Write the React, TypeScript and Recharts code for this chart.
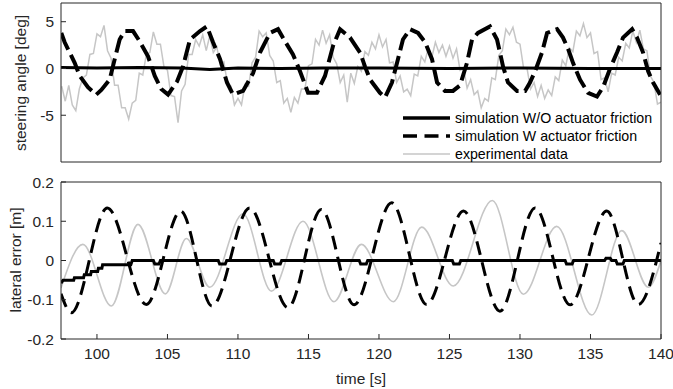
import React from 'react';
import { LineChart, Line, XAxis, YAxis } from 'recharts';

// ---------- axes ----------
const X_DOMAIN: [number, number] = [97.45, 140];
const X_TICKS = [100, 105, 110, 115, 120, 125, 130, 135, 140];
const STEER_DOMAIN: [number, number] = [-10, 7];
const STEER_TICKS = [-10, -5, 0, 5];
const LAT_DOMAIN: [number, number] = [-0.2, 0.2];
const LAT_TICKS = [-0.2, -0.1, 0, 0.1, 0.2];

const SERIES_NAMES = [
  'simulation W/O actuator friction',
  'simulation W actuator friction',
  'experimental data',
];

// ---------- steering angle [deg] ----------
const steerWO: [number, number][] = [
  [97.45, 0.1], [100, 0.05], [103, 0.1], [106, 0.05], [108, -0.1], [110, 0.05],
  [113, 0.0], [116, 0.05], [120, 0.05], [125, 0.0], [130, 0.05], [135, 0.0], [140, 0.0],
];

const steerW: [number, number][] = [
  [97.47, 3.8], [97.71, 2.8], [98.1, 1.6], [98.42, 0.6], [98.78, -0.8], [99.36, -2.0],
  [99.95, -2.8], [100.31, -2.3], [100.9, -1.2], [101.26, 1.0], [101.61, 3.1], [101.97, 4.0],
  [102.56, 4.0], [103.03, 2.9], [103.62, 1.3], [104.1, -0.8], [104.56, -2.2], [105.04, -2.8],
  [105.68, -1.4], [106.1, 0.2], [106.6, 3.1], [107.31, 4.0], [107.8, 4.5], [108.23, 2.8],
  [108.73, 1.0], [109.22, -1.5], [109.65, -2.8], [110.36, -2.4], [111.07, -0.5], [111.56, 1.7],
  [112.27, 3.8], [112.84, 4.2], [113.34, 2.9], [113.9, 1.5], [114.4, -0.3], [114.97, -2.6],
  [115.6, -2.6], [116.17, -0.8], [116.74, 2.4], [117.24, 4.2], [117.95, 3.3], [118.66, 1.7],
  [119.01, 0.2], [119.37, -1.2], [120.07, -2.6], [120.43, -3.1], [120.92, -1.5], [121.35, 1.0],
  [121.7, 3.1], [122.2, 4.2], [122.77, 3.8], [123.27, 2.8], [123.76, 1.0], [124.12, -1.5],
  [124.68, -2.4], [125.25, -2.4], [125.75, -1.8], [126.24, 0.6], [126.6, 3.1], [127.02, 3.8],
  [127.87, 4.5], [128.37, 3.1], [128.58, 1.7], [128.8, 0.2], [129.15, -1.5], [129.79, -2.4],
  [130.36, -2.4], [130.71, -1.5], [131.07, -0.3], [131.56, 1.7], [131.92, 3.8], [132.63, 4.2],
  [133.05, 3.3], [133.41, 2.1], [133.76, 0.6], [134.26, -1.2], [134.83, -2.6], [135.46, -3.0],
  [135.89, -2.0], [136.39, 0.0], [136.88, 1.7], [137.31, 3.3], [137.95, 4.2], [138.3, 3.3],
  [138.73, 1.7], [139.09, -0.3], [139.44, -1.5], [139.94, -2.8],
];

// experimental steering, sampled every 0.25 s from 97.5 s
const EXP_T0 = 97.5;
const EXP_DT = 0.25;
const steerExp: number[] = [
  -1.9, -3.5, -1.8, -3.9, -4.5, -2.2, -1.0, -0.7, 1.5, 1.6,
  3.7, 3.4, 4.6, 1.9, 1.1, -1.8, -1.8, -4.2, -4.2, -5.4,
  -3.7, -3.4, -0.5, -0.7, 1.5, 1.7, 3.9, 2.6, 2.6, 0.2,
  -0.2, -2.9, -3.0, -5.8, -2.4, -1.7, 1.5, 1.5, 3.1, 2.4,
  3.6, 1.9, 3.5, 1.7, 2.3, 0.4, 0.7, -1.6, -1.9, -3.9,
  -3.2, -3.9, -1.7, -1.9, 0.6, 1.2, 4.0, 3.4, 3.8, 1.4,
  0.8, -1.5, -1.3, -3.7, -3.2, -4.7, -3.1, -3.7, -2.2, -2.2,
  0.3, 0.5, 3.1, 2.5, 4.1, 2.7, 3.6, 1.2, 0.5, -1.5,
  -0.7, -3.6, -0.5, -1.6, 0.2, -0.3, 1.8, 1.4, 2.8, 2.1,
  3.6, 2.3, 3.1, 0.6, 0.7, -1.5, -0.8, -2.5, -2.2, -2.9,
  -0.6, -0.8, 1.3, 0.7, 2.2, 1.2, 2.8, 1.7, 2.5, 1.3,
  2.4, 1.1, 2.1, -0.2, 0.0, -2.1, -1.2, -2.8, -2.4, -4.2,
  -3.2, -3.5, -1.0, -1.2, 1.4, 1.9, 4.2, 3.6, 4.4, 2.8,
  2.6, 0.1, 0.0, -2.2, -1.5, -3.0, -1.8, -3.2, -2.3, -2.9,
  -0.9, -1.3, 0.9, 0.3, 2.2, 1.8, 4.0, 3.5, 4.8, 3.3,
  3.8, 1.6, 1.8, -1.2, -1.0, -2.5, -0.5, -0.7, 1.2, 0.8,
  2.7, 2.2, 4.0, 2.8, 4.1, 2.1, 1.9, -0.8, -1.5, -3.8,
  -3.6,
];

// ---------- lateral error [m] ----------
const latWO: [number, number][] = [
  [97.45, -0.058], [97.6, -0.05], [98.35, -0.05], [98.4, -0.044], [99.05, -0.044], [99.1, -0.036],
  [99.55, -0.036], [99.6, -0.028], [100.05, -0.028], [100.1, -0.02], [100.35, -0.02], [100.4, -0.011],
  [102.4, -0.011], [102.5, 0], [104.0, 0], [104.1, -0.009], [104.4, -0.009], [104.5, 0],
  [108.6, 0], [108.7, -0.009], [109.1, -0.009], [109.2, 0], [112.5, 0], [112.6, -0.009],
  [113.0, -0.009], [113.1, 0], [118.6, 0], [118.7, -0.009], [119.1, -0.009], [119.2, 0],
  [125.2, 0], [125.3, -0.009], [125.7, -0.009], [125.8, 0], [133.2, 0], [133.3, -0.009],
  [133.7, -0.009], [133.8, 0], [136.0, 0], [136.1, 0.006], [136.4, 0.006], [136.5, 0],
  [136.8, 0], [136.9, -0.009], [137.3, -0.009], [137.4, 0], [140, 0],
];

const latW: [number, number][] = [
  [97.45, -0.085], [98.18, -0.133], [100.73, 0.134], [103.5, -0.112], [105.94, 0.126],
  [108.16, -0.116], [110.83, 0.134], [113.55, -0.12], [115.91, 0.13], [118.23, -0.113],
  [120.9, 0.147], [123.38, -0.112], [126.0, 0.126], [128.58, -0.129], [131.07, 0.134],
  [133.55, -0.113], [136.15, 0.126], [138.39, -0.112], [140.0, 0.045],
];

const latExp: [number, number][] = [
  [97.45, -0.07], [99.0, 0.041], [101.02, -0.116], [102.91, 0.092], [104.85, -0.085],
  [106.34, 0.056], [108.0, -0.068], [110.36, 0.119], [112.37, -0.078], [114.61, 0.1],
  [116.81, -0.105], [118.75, 0.041], [121.02, -0.105], [123.03, 0.085], [125.27, -0.065],
  [128.04, 0.153], [130.24, -0.086], [132.6, 0.087], [135.09, -0.139], [137.22, 0.076],
  [139.1, -0.068], [140.0, 0.0],
];

// ---------- helpers ----------
const rows = (pairs: [number, number][]) => pairs.map(([t, v]) => ({ t, v }));
const expRows = steerExp.map((v, i) => ({ t: EXP_T0 + i * EXP_DT, v }));

const AXIS = '#262626';
const FONT = "'Liberation Sans', Arial, Helvetica, sans-serif";
const GRAY = '#c6c6c6';
const DASH = '14 7.5';
const TOP_DASH = '18 6';
const tickStyle = { fill: AXIS, fontSize: 15.5, fontFamily: FONT };
const tickLineStyle = { stroke: AXIS, strokeWidth: 1 };

const yLabel = (text: string, x: number, y: number) => () => (
  <text
    x={x}
    y={y}
    transform={`rotate(-90, ${x}, ${y})`}
    textAnchor="middle"
    dominantBaseline="central"
    fill={AXIS}
    fontSize={15.5}
    fontFamily={FONT}
  >
    {text}
  </text>
);

function SteerChart() {
  return (
    <LineChart width={673} height={165} margin={{ top: 2, right: 11, bottom: 2, left: 0 }}>
      <XAxis xAxisId="b" type="number" dataKey="t" domain={X_DOMAIN} ticks={X_TICKS} allowDataOverflow
        orientation="bottom" height={1} tick={false} tickSize={-5} tickLine={tickLineStyle} stroke={AXIS} />
      <XAxis xAxisId="t" type="number" dataKey="t" domain={X_DOMAIN} ticks={X_TICKS} allowDataOverflow
        orientation="top" height={1} tick={false} tickSize={-5} tickLine={tickLineStyle} stroke={AXIS} />
      <YAxis yAxisId="l" type="number" domain={STEER_DOMAIN} ticks={STEER_TICKS} allowDataOverflow
        width={61} tickSize={-5} tickMargin={12} tick={tickStyle} tickLine={tickLineStyle} stroke={AXIS}
        label={{ content: yLabel('steering angle [deg]', 20, 83) }} />
      <YAxis yAxisId="r" type="number" domain={STEER_DOMAIN} ticks={STEER_TICKS} allowDataOverflow
        orientation="right" width={1} tick={false} tickSize={-5} tickLine={tickLineStyle} stroke={AXIS} />
      <Line xAxisId="b" yAxisId="l" data={expRows} dataKey="v" type="linear" stroke={GRAY}
        strokeWidth={1.5} dot={false} isAnimationActive={false} name={SERIES_NAMES[2]} />
      <Line xAxisId="b" yAxisId="l" data={rows(steerW)} dataKey="v" type="linear" stroke="#000"
        strokeWidth={4} strokeDasharray={TOP_DASH} dot={false} isAnimationActive={false} name={SERIES_NAMES[1]} />
      <Line xAxisId="b" yAxisId="l" data={rows(steerWO)} dataKey="v" type="linear" stroke="#000"
        strokeWidth={3} dot={false} isAnimationActive={false} name={SERIES_NAMES[0]} />
    </LineChart>
  );
}

function LatChart() {
  return (
    <LineChart width={673} height={219} margin={{ top: 11, right: 11, bottom: 0, left: 0 }}>
      <XAxis xAxisId="b" type="number" dataKey="t" domain={X_DOMAIN} ticks={X_TICKS} allowDataOverflow
        orientation="bottom" height={50} tickSize={-5} tickMargin={14} tick={tickStyle} tickLine={tickLineStyle} stroke={AXIS}
        label={{
          content: (p: any) => (
            <text x={p.viewBox.x + p.viewBox.width / 2} y={p.viewBox.y + 45} textAnchor="middle"
              fill={AXIS} fontSize={15.5} fontFamily={FONT}>time [s]</text>
          ),
        }} />
      <XAxis xAxisId="t" type="number" dataKey="t" domain={X_DOMAIN} ticks={X_TICKS} allowDataOverflow
        orientation="top" height={1} tick={false} tickSize={-5} tickLine={tickLineStyle} stroke={AXIS} />
      <YAxis yAxisId="l" type="number" domain={LAT_DOMAIN} ticks={LAT_TICKS} allowDataOverflow
        width={61} tickSize={-5} tickMargin={12} tick={tickStyle} tickLine={tickLineStyle} stroke={AXIS}
        label={{ content: yLabel('lateral error [m]', 15, 90) }} />
      <YAxis yAxisId="r" type="number" domain={LAT_DOMAIN} ticks={LAT_TICKS} allowDataOverflow
        orientation="right" width={1} tick={false} tickSize={-5} tickLine={tickLineStyle} stroke={AXIS} />
      <Line xAxisId="b" yAxisId="l" data={rows(latExp)} dataKey="v" type="monotone" stroke={GRAY}
        strokeWidth={1.6} dot={false} isAnimationActive={false} name={SERIES_NAMES[2]} />
      <Line xAxisId="b" yAxisId="l" data={rows(latW)} dataKey="v" type="monotone" stroke="#000"
        strokeWidth={3} strokeDasharray={DASH} dot={false} isAnimationActive={false} name={SERIES_NAMES[1]} />
      <Line xAxisId="b" yAxisId="l" data={rows(latWO)} dataKey="v" type="linear" stroke="#000"
        strokeWidth={3} dot={false} isAnimationActive={false} name={SERIES_NAMES[0]} />
    </LineChart>
  );
}

function LegendBox() {
  const rowsY = [118, 136, 154];
  return (
    <svg width={673} height={170} style={{ position: 'absolute', left: 0, top: 0, pointerEvents: 'none' }}>
      {SERIES_NAMES.map((name, i) => (
        <g key={name}>
          <line x1={403} x2={450} y1={rowsY[i]} y2={rowsY[i]}
            stroke={i === 2 ? GRAY : '#000'} strokeWidth={i === 2 ? 1.5 : 3.5}
            strokeDasharray={i === 1 ? DASH : undefined} />
          <text x={455} y={rowsY[i]} dominantBaseline="central" fill="#000" fontSize={14.2} fontFamily={FONT}>
            {name}
          </text>
        </g>
      ))}
    </svg>
  );
}

export default function App() {
  return (
    <div style={{ position: 'absolute', left: 0, top: 0, width: 673, height: 389, background: '#fff' }}>
      <div style={{ position: 'absolute', left: 0, top: 0 }}>
        <SteerChart />
      </div>
      <div style={{ position: 'absolute', left: 0, top: 170 }}>
        <LatChart />
      </div>
      <LegendBox />
    </div>
  );
}
